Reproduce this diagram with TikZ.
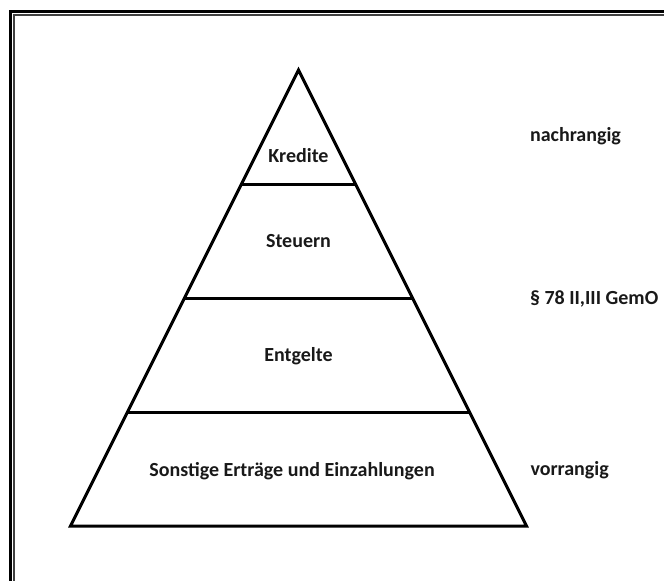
\documentclass[tikz,border=0pt]{standalone}
\usepackage{fontspec}
\setmainfont{Carlito}
\usetikzlibrary{calc}
\begin{document}
\begin{tikzpicture}[x=1pt, y=-1pt,
    tier/.style={font=\bfseries\fontsize{20}{24}\selectfont, text=black!90, anchor=base},
    rank/.style={font=\bfseries\fontsize{20}{24}\selectfont, text=black!90, anchor=base west}]
    \useasboundingbox (0,0) rectangle (664,581);
    % frame, only top and left edge in view
    \draw[line width=3pt] (10.5,581) -- (10.5,11.5) -- (664,11.5);
    \draw[line width=1.6pt, black!75] (14.2,581) -- (14.2,15.2) -- (664,15.2);
    \coordinate (A) at (298.5,70);
    \coordinate (L) at (70.5,526);
    \coordinate (R) at (526.5,526);
    \draw[line width=3pt] (A) -- (L) -- (R) -- cycle;
    \foreach \t in {0.25,0.5,0.75}
      \draw[line width=3pt] ($(A)!\t!(L)$) -- ($(A)!\t!(R)$);
    \node[tier] (kredite) at (298.5,162.7) {Kredite};
    \node[tier] (steuern) at (298.5,247.7) {Steuern};
    \node[tier] (entgelte) at (298.5,361.7) {Entgelte};
    \node[tier] (sonstige) at (292,476) {Sonstige Erträge und Einzahlungen};
    \node[rank] (nach) at (526.5,141.7) {nachrangig};
    \node[rank] (gemo) at (526.5,304) {§ 78 II,III GemO};
    \node[rank] (vor) at (527,475) {vorrangig};
\end{tikzpicture}
\end{document}
